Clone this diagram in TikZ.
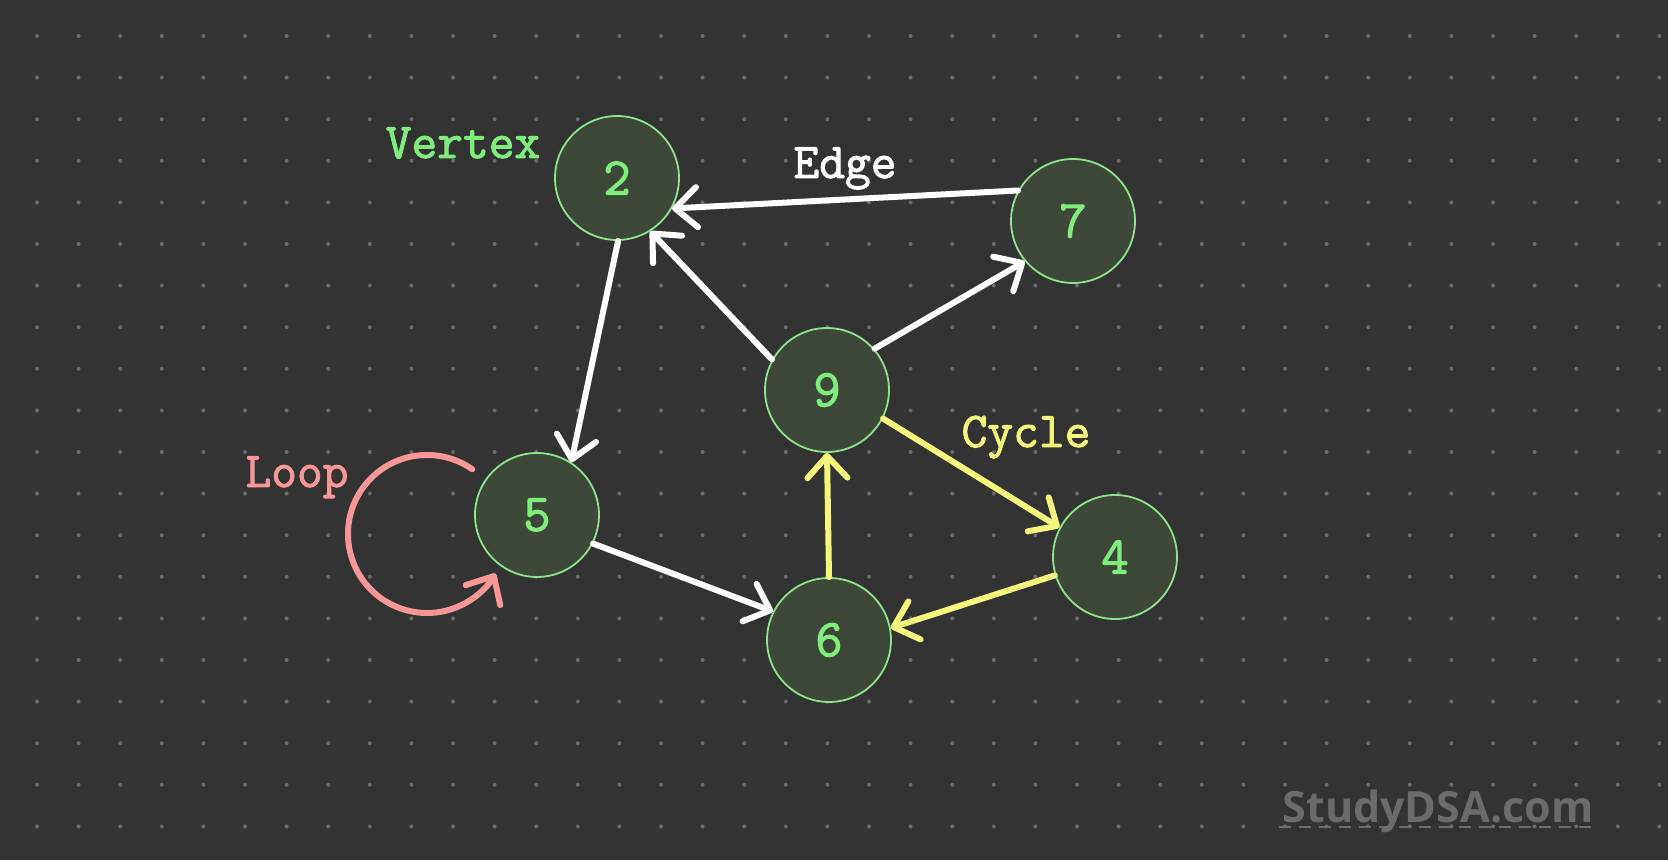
\documentclass[tikz,border=0pt]{standalone}
\usepackage{fontspec}
\usepackage{xcolor}
\usetikzlibrary{arrows.meta}
\newfontfamily\markfont{Open Sans}
\newfontfamily\tagfont{Latin Modern Mono}[FakeBold=2]
\definecolor{bg}{HTML}{333333}
\definecolor{dotgray}{HTML}{6A6A6A}
\definecolor{vfill}{HTML}{3D4838}
\definecolor{vline}{HTML}{8FE38B}
\definecolor{vtext}{HTML}{80EC7C}
\definecolor{cyc}{HTML}{F6F57C}
\definecolor{lop}{HTML}{F79797}
\definecolor{markgray}{HTML}{6B6B6B}

\begin{document}
\begin{tikzpicture}[x=1pt,y=1pt,
	vertex/.style={circle, draw=vline, line width=1.8pt, fill=vfill, minimum size=124pt, inner sep=0pt, text=vtext, font=\tagfont\fontsize{53}{60}\selectfont},
	edge/.style={line width=6pt, line cap=round, -{Straight Barb[length=22pt,width=40pt,round]}},
	tag/.style={anchor=base, font=\tagfont\fontsize{50}{60}\selectfont}]
	%background and dots
	\useasboundingbox (0,0) rectangle (1668,860);
	\fill[bg] (0,0) rectangle (1668,860);
	\foreach \i in {0,...,39}
		\foreach \j in {0,...,19}
			\fill[dotgray] (37+41.6*\i,824-41.6*\j) circle (2);
	%vertices
	\node[vertex] (v2) at (617,682) {2};
	\node[vertex] (v7) at (1073,639) {7};
	\node[vertex] (v9) at (827,470) {9};
	\node[vertex] (v5) at (537,345) {5};
	\node[vertex] (v6) at (829,220) {6};
	\node[vertex] (v4) at (1115,303) {4};
	%white edges
	\draw[edge, white] (v7.151) -- (v2.-29);
	\draw[edge, white] (v9.151) -- (v2.-58);
	\draw[edge, white] (v9.41) -- (v7.220);
	\draw[edge, white] (v2.-89) -- (v5.57);
	\draw[edge, white] (v5.-27) -- (v6.153);
	%the cycle
	\draw[edge, cyc] (v6.90) -- (v9.-90);
	\draw[edge, cyc] (v9.-27) -- (v4.152);
	\draw[edge, cyc] (v4.197) -- (v6.11);
	%loop at 5
	\coordinate (lc) at (427,326);
	\draw[edge, lop] (lc) ++(55:79) arc[start angle=55, end angle=330, radius=79];
	%labels
	\node[tag, text=vtext] (tvertex) at (463,702) {Vertex};
	\node[tag, text=white] (tedge) at (845,682) {Edge};
	\node[tag, text=cyc] (tcycle) at (1026,413) {Cycle};
	\node[tag, text=lop] (tloop) at (297,373) {Loop};
	%watermark
	\node[anchor=base, text=markgray, font=\markfont\bfseries\fontsize{43}{52}\selectfont] (mark) at (1438,38) {StudyDSA.com};
	\draw[markgray, line width=2.5pt, dash pattern=on 12pt off 8pt] (mark.base west) ++(0,-5) coordinate (ul) -- (ul -| mark.base east);
\end{tikzpicture}
\end{document}
